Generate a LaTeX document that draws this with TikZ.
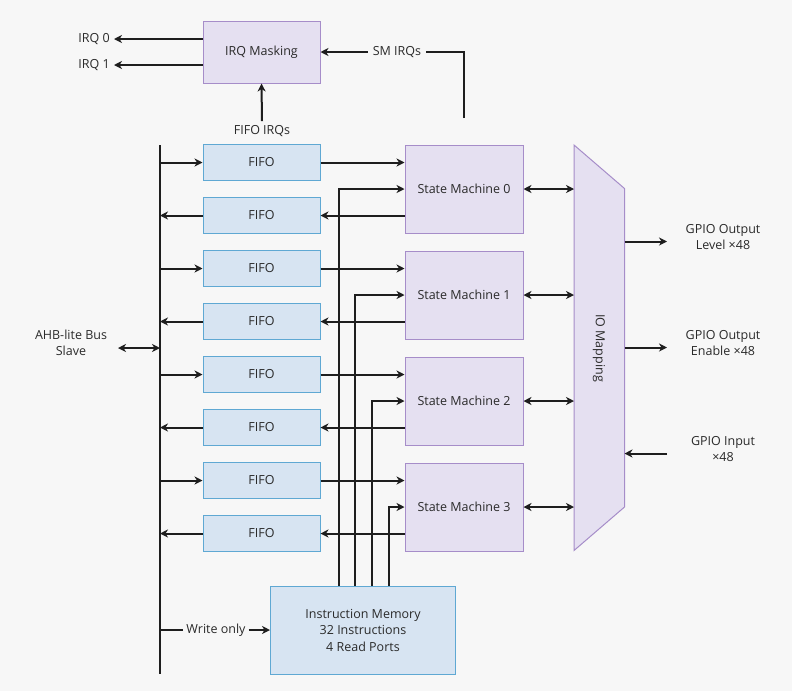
\documentclass[tikz,border=0pt]{standalone}
\usepackage{fontspec}
\setmainfont{Open Sans}
\usetikzlibrary{arrows.meta,calc}
\definecolor{bg}{HTML}{F7F7F7}
\definecolor{fifofill}{HTML}{D7E4F2}
\definecolor{fifoline}{HTML}{5FA8D3}
\definecolor{smfill}{HTML}{E5E0F1}
\definecolor{smline}{HTML}{A68DC9}
\definecolor{txt}{HTML}{2A2A2A}
\definecolor{wire}{HTML}{1E1E1E}
\begin{document}
\begin{tikzpicture}[x=1pt,y=-1pt,
  every node/.style={text=txt,font=\fontsize{12.5}{15.5}\selectfont},
  fifobox/.style={draw=fifoline,fill=fifofill,line width=1pt,minimum width=117pt,minimum height=36pt,inner sep=0pt},
  smbox/.style={draw=smline,fill=smfill,line width=1pt,minimum width=118pt,minimum height=88pt,inner sep=0pt},
  lbl/.style={inner sep=4pt,align=center},
  wireline/.style={draw=wire,line width=2pt},
  tip/.tip={Stealth[length=8pt,width=8pt,inset=2.5pt]},
  arr/.style={wireline,-tip},
  arrboth/.style={wireline,tip-tip}]
\fill[bg] (0,0) rectangle (792,691);
\useasboundingbox (0,0) rectangle (792,691);

% bus
\coordinate (bustop) at (160,145);
\coordinate (busbot) at (160,674);
\draw[wireline,line width=2.4pt] (bustop) -- (busbot);

% IRQ masking
\node[smbox,minimum width=117pt,minimum height=62pt] (mask) at (261.5,52) {IRQ Masking};
\node[lbl,anchor=east] (irq0) at (114,39) {IRQ 0};
\node[lbl,anchor=east] (irq1) at (114,65) {IRQ 1};
\draw[arr] (mask.west |- irq0) -- (irq0.east);
\draw[arr] (mask.west |- irq1) -- (irq1.east);
\node[lbl,inner sep=5pt] (smirq) at (397,52) {SM IRQs};
\coordinate (smirqstart) at (464,118);
\draw[wireline] (smirqstart) |- (smirq.east);
\draw[arr] (smirq.west) -- (mask.east);
\node[lbl] (fifoirq) at (262,131) {FIFO IRQs};
\draw[arr] (fifoirq.north) -- (mask.south);

% FIFOs
\foreach \i in {0,...,7}{
  \node[fifobox] (f\i) at (261.5,{162.5+53*\i}) {FIFO};
}
% State machines
\foreach \j in {0,...,3}{
  \node[smbox] (sm\j) at (464,{189+106*\j}) {State Machine \j};
}
% IO mapping
\coordinate (iotl) at (574,145);
\coordinate (iotr) at (624.5,188.5);
\coordinate (iobr) at (624.5,507);
\coordinate (iobl) at (574,550.5);
\draw[draw=smline,fill=smfill,line width=1pt] (iotl) -- (iotr) -- (iobr) -- (iobl) -- cycle;
\node[rotate=-90] (iomap) at (599,348) {IO Mapping};

\foreach \j/\a/\b in {0/0/1,1/2/3,2/4/5,3/6/7}{
  \draw[arr] (f\a.west -| bustop) -- (f\a.west);
  \draw[arr] (f\a.east) -- (f\a.east -| sm\j.west);
  \draw[arr] (sm\j.west |- f\b.east) -- (f\b.east);
  \draw[arr] (f\b.west) -- (f\b.west -| bustop);
  \draw[arrboth] (sm\j.east) -- (sm\j.east -| iotl);
}

% instruction memory
\node[fifobox,minimum width=185pt,minimum height=88pt,align=center] (im) at (363,630)
  {Instruction Memory\\[1pt]32 Instructions\\[1pt]4 Read Ports};
\draw[arr] ([xshift=-24pt]im.north) |- (sm0.west);
\draw[arr] ([xshift=-8pt]im.north) |- (sm1.west);
\draw[arr] ([xshift=9pt]im.north) |- (sm2.west);
\draw[arr] ([xshift=26pt]im.north) |- (sm3.west);
\node[lbl,inner sep=3pt] (wonly) at (216,630) {Write only};
\draw[wireline] (wonly.west -| bustop) -- (wonly.west);
\draw[arr] (wonly.east) -- (im.west);

% AHB
\node[lbl,align=center] (ahb) at (71,343) {AHB-lite Bus\\Slave};
\coordinate (ahbend) at (118,348);
\draw[arrboth] (ahbend) -- (ahbend -| bustop);

% GPIO
\node[lbl,align=center] (gol) at (723,237) {GPIO Output\\Level ×48};
\node[lbl,align=center] (goe) at (723,343) {GPIO Output\\Enable ×48};
\node[lbl,align=center] (gin) at (723,449) {GPIO Input\\×48};
\coordinate (golend) at (667,241.5);
\coordinate (goeend) at (667,347.5);
\coordinate (ginend) at (667,453.5);
\draw[arr] (golend -| iotr) -- (golend);
\draw[arr] (goeend -| iotr) -- (goeend);
\draw[arr] (ginend) -- (ginend -| iotr);
\end{tikzpicture}
\end{document}
